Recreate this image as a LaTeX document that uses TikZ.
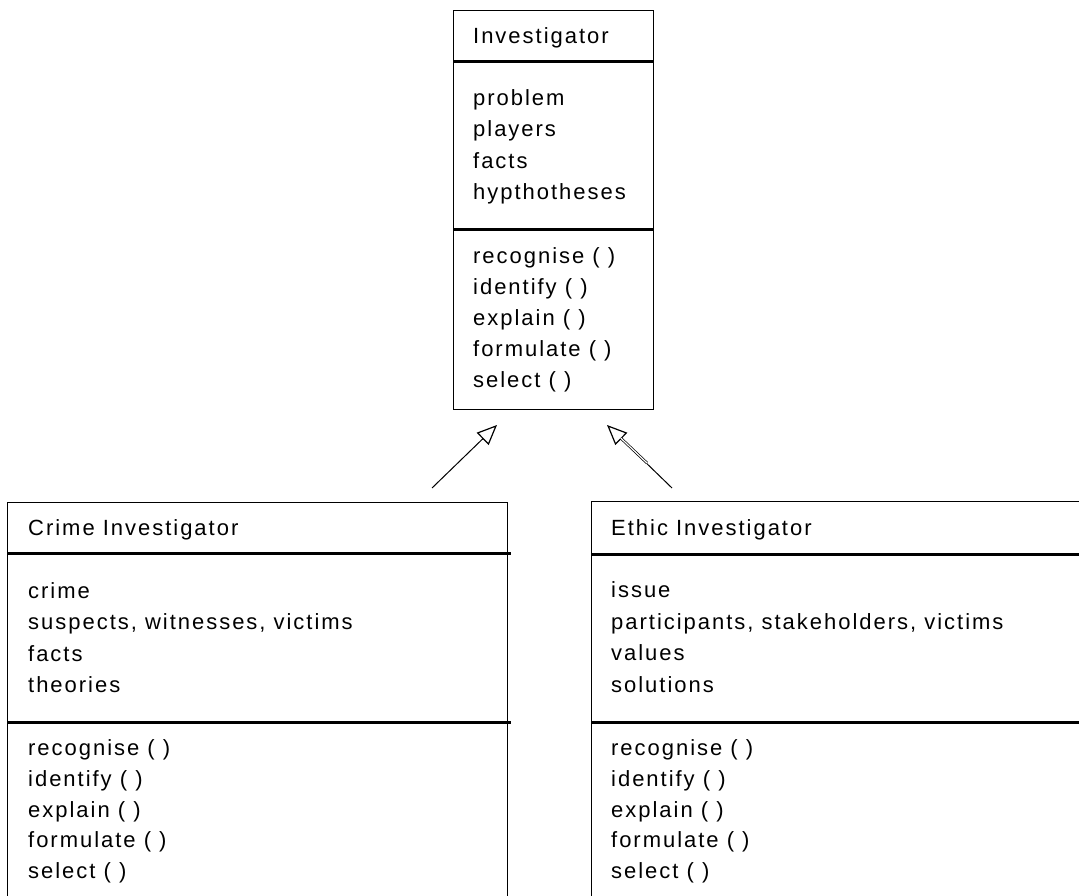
\documentclass[tikz,border=0pt]{standalone}
\usepackage{fontspec}
\setmainfont{Liberation Sans}[LetterSpace=9]
\usetikzlibrary{arrows.meta}
\begin{document}
\begin{tikzpicture}[x=1pt,y=-1pt,
  box/.style={draw=black, line width=1.3pt, inner sep=0pt, anchor=north west},
  sep/.style={draw=black, line width=3pt},
  txt/.style={anchor=west, inner sep=0pt, text height=16pt, text depth=5pt, font=\fontsize{22}{26}\selectfont},
  gen/.style={draw=black, line width=1pt, -{Triangle[open, length=20pt, width=17pt, line width=1.2pt]}}]
\useasboundingbox (0,0) rectangle (1079,896);
\clip (0,0) rectangle (1079,896);
\fill[white] (0,0) rectangle (1079,896);

% Investigator
\node[box, minimum width=200pt, minimum height=399pt] (inv) at (453,10) {};
\draw[sep] (453,62) -- (653,62);
\draw[sep] (453,230) -- (653,230);
\node[txt] (invt) at (473,38) {Investigator};
\foreach \t [count=\i] in {problem, players, facts, hypthotheses}
  \node[txt] (inva\i) at (473,{100+31.5*(\i-1)}) {\t};
\foreach \t [count=\i] in {recognise ( ), identify ( ), explain ( ), formulate ( ), select ( )}
  \node[txt] (invm\i) at (473,{258+31*(\i-1)}) {\t};

% Crime Investigator
\node[box, minimum width=500pt, minimum height=430pt] (crime) at (7,502) {};
\draw[sep] (7,553) -- (511,553);
\draw[sep] (7,722) -- (511,722);
\node[txt] (crimet) at (28,530) {Crime Investigator};
\foreach \t [count=\i] in {crime, {suspects, witnesses, victims}, facts, theories}
  \node[txt] (crimea\i) at (28,{593+31.3*(\i-1)}) {\t};
\foreach \t [count=\i] in {recognise ( ), identify ( ), explain ( ), formulate ( ), select ( )}
  \node[txt] (crimem\i) at (28,{750+30.8*(\i-1)}) {\t};

% Ethic Investigator
\node[box, minimum width=520pt, minimum height=430pt] (ethic) at (591,501) {};
\draw[sep] (591,554) -- (1079,554);
\draw[sep] (591,722) -- (1079,722);
\node[txt] (ethict) at (611,530) {Ethic Investigator};
\foreach \t [count=\i] in {issue, {participants, stakeholders, victims}, values, solutions}
  \node[txt] (ethica\i) at (611,{592+31.6*(\i-1)}) {\t};
\foreach \t [count=\i] in {recognise ( ), identify ( ), explain ( ), formulate ( ), select ( )}
  \node[txt] (ethicm\i) at (611,{750+30.8*(\i-1)}) {\t};

% Generalisation arrows
\coordinate (cstart) at (432,488);
\coordinate (ctip) at (497,425);
\coordinate (estart) at (672,488);
\coordinate (emid) at (647,463);
\coordinate (etip) at (607,425);
\draw[gen] (cstart) -- (ctip);
\draw[gen] (estart) -- (etip);
\draw[draw=black, double=white, double distance=1.2pt, line width=0.7pt, shorten >=19pt] (emid) -- (etip);
\end{tikzpicture}
\end{document}
